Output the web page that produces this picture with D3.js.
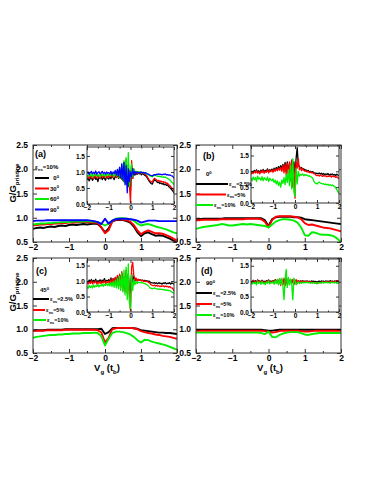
<!DOCTYPE html>
<html><head><meta charset="utf-8">
<script src="https://cdn.jsdelivr.net/npm/d3@7"></script>
<style>
html,body{margin:0;padding:0;background:#fff;}
svg{display:block;}
text{font-family:"Liberation Sans",Arial,sans-serif;font-weight:bold;fill:#000;}
</style></head>
<body>
<script>
// ---------- tick labels ----------
const xTicks = [-2,-1,0,1,2];
const xMinorTicks = [-1.5,-0.5,0.5,1.5];
const yTicksMain = [0.5,1.0,1.5,2.0,2.5];
const yTicksInset = [0.0,0.5,1.0,1.5];

// ---------- legend labels ----------
const angleLabelsA = ["0","30","60","90"];
const strainLabels = ["2.5%","5%","10%"];

// ---------- main panel series (Vg from -2 to 2, step 0.1) ----------
const a_main_0  = [0.77,0.79,0.80,0.79,0.81,0.82,0.81,0.83,0.84,0.83,0.85,0.86,0.85,0.86,0.87,0.86,0.87,0.88,0.87,0.80,0.70,0.78,0.92,0.95,0.96,0.95,0.93,0.90,0.82,0.70,0.62,0.68,0.70,0.66,0.63,0.64,0.63,0.60,0.57,0.53,0.50];
const a_main_30 = [0.84,0.85,0.86,0.86,0.87,0.87,0.88,0.88,0.89,0.89,0.90,0.90,0.90,0.91,0.91,0.91,0.90,0.90,0.89,0.80,0.68,0.74,0.92,0.96,0.97,0.96,0.95,0.92,0.85,0.74,0.66,0.71,0.74,0.71,0.68,0.68,0.67,0.64,0.61,0.57,0.53];
const a_main_60 = [0.86,0.87,0.88,0.88,0.89,0.89,0.90,0.90,0.91,0.91,0.91,0.92,0.92,0.92,0.92,0.93,0.92,0.92,0.91,0.88,0.84,0.88,0.94,0.98,0.99,0.99,0.98,0.97,0.94,0.88,0.84,0.86,0.87,0.85,0.82,0.80,0.78,0.76,0.73,0.70,0.68];
const a_main_90 = [0.93,0.94,0.94,0.94,0.95,0.95,0.95,0.95,0.95,0.95,0.95,0.95,0.95,0.95,0.95,0.95,0.94,0.93,0.91,0.87,0.98,0.88,0.94,0.97,0.98,0.98,0.98,0.97,0.96,0.94,0.90,0.92,0.94,0.94,0.94,0.93,0.93,0.93,0.93,0.93,0.93];

const b_main_25 = [0.97,0.97,0.98,0.98,0.98,0.98,0.98,0.98,0.99,0.99,0.99,0.99,0.99,0.99,0.99,0.99,0.99,0.99,0.99,0.95,0.83,0.97,1.01,1.02,1.02,1.02,1.02,1.01,1.01,1.00,0.97,0.96,0.95,0.94,0.93,0.92,0.91,0.90,0.89,0.88,0.87];
const b_main_5  = [0.95,0.95,0.96,0.96,0.96,0.96,0.96,0.97,0.97,0.97,0.97,0.97,0.97,0.97,0.98,0.98,0.98,0.98,0.97,0.92,0.80,0.95,1.02,1.03,1.03,1.03,1.03,1.02,1.01,0.97,0.89,0.85,0.86,0.84,0.82,0.80,0.79,0.78,0.76,0.74,0.72];
const b_main_10 = [0.77,0.79,0.81,0.82,0.83,0.84,0.85,0.87,0.86,0.84,0.84,0.85,0.86,0.87,0.86,0.87,0.86,0.85,0.84,0.83,0.80,0.86,0.92,0.95,0.97,0.97,0.96,0.94,0.90,0.80,0.64,0.63,0.70,0.69,0.66,0.65,0.65,0.64,0.62,0.57,0.50];

const c_main_25 = [0.97,0.98,0.98,0.98,0.99,0.99,0.99,0.99,0.99,1.00,1.00,1.00,1.00,1.00,1.00,1.00,1.00,1.00,1.00,1.01,0.90,0.94,1.02,1.03,1.03,1.03,1.03,1.03,1.02,1.01,0.98,0.97,0.96,0.95,0.94,0.93,0.93,0.92,0.92,0.91,0.90];
const c_main_5  = [0.96,0.97,0.97,0.97,0.98,0.98,0.98,0.98,0.98,0.99,0.99,0.99,0.99,0.99,0.99,0.99,0.99,0.99,0.98,0.93,0.72,0.82,1.00,1.02,1.03,1.03,1.03,1.03,1.02,1.00,0.96,0.94,0.92,0.91,0.89,0.88,0.86,0.85,0.84,0.82,0.80];
const c_main_10 = [0.82,0.84,0.85,0.86,0.87,0.88,0.88,0.89,0.89,0.90,0.90,0.91,0.91,0.91,0.92,0.92,0.92,0.93,0.92,0.85,0.66,0.80,0.92,0.95,0.95,0.94,0.92,0.89,0.84,0.77,0.72,0.78,0.77,0.74,0.72,0.70,0.68,0.66,0.63,0.60,0.57];

const d_main_25 = [0.99,0.99,0.99,0.99,0.99,0.99,0.99,0.99,0.99,0.99,0.99,0.99,0.99,0.99,0.99,0.99,0.99,0.99,0.99,0.98,0.97,0.97,0.98,0.99,0.99,0.99,0.99,0.99,0.99,0.99,0.99,0.99,0.99,0.99,0.99,0.99,0.99,0.99,0.99,0.99,0.99];
const d_main_5  = [0.97,0.97,0.97,0.97,0.97,0.97,0.97,0.97,0.97,0.97,0.97,0.97,0.97,0.97,0.97,0.97,0.97,0.97,0.97,0.96,0.95,0.93,0.94,0.96,0.97,0.97,0.97,0.97,0.97,0.96,0.95,0.95,0.96,0.97,0.97,0.97,0.97,0.97,0.97,0.97,0.97];
const d_main_10 = [0.93,0.93,0.93,0.93,0.93,0.93,0.93,0.93,0.93,0.93,0.93,0.93,0.93,0.93,0.93,0.93,0.93,0.93,0.92,0.90,0.95,0.84,0.83,0.88,0.91,0.93,0.94,0.94,0.94,0.92,0.89,0.88,0.90,0.91,0.92,0.92,0.92,0.92,0.92,0.92,0.92];

// ---------- inset series (Vg from -2 to 2, step 0.05) ----------
const a_in_0 = [0.76,0.82,0.72,0.80,0.85,0.74,0.79,0.86,0.77,0.81,0.70,0.84,0.79,0.88,0.76,0.83,0.80,0.74,0.87,0.81,
 0.78,0.85,0.79,0.90,0.82,0.76,0.88,0.83,0.91,0.80,0.86,0.95,0.78,1.02,0.70,1.10,0.62,1.15,0.55,1.05,
 0.40,1.20,0.80,1.05,0.90,0.98,0.92,1.00,0.94,0.97,0.91,0.95,0.93,0.90,0.88,0.84,0.78,0.72,0.68,0.64,
 0.62,0.70,0.76,0.74,0.70,0.67,0.68,0.64,0.66,0.62,0.64,0.60,0.62,0.58,0.60,0.55,0.52,0.48,0.44,0.40,0.35];
const a_in_30 = [0.84,0.88,0.80,0.90,0.83,0.87,0.78,0.92,0.85,0.82,0.89,0.86,0.80,0.91,0.84,0.88,0.83,0.90,0.86,0.82,
 0.89,0.85,0.92,0.84,0.90,0.87,0.95,0.82,0.98,0.86,1.05,0.80,1.15,0.75,1.30,0.70,1.40,0.65,1.20,0.60,
 0.05,1.35,0.80,1.10,0.95,1.02,0.96,0.99,0.97,1.00,0.95,0.98,0.96,0.94,0.92,0.88,0.82,0.76,0.72,0.70,
 0.68,0.76,0.80,0.78,0.75,0.72,0.74,0.70,0.72,0.69,0.70,0.67,0.68,0.64,0.65,0.60,0.58,0.54,0.50,0.47,0.42];
const a_in_60 = [0.90,0.86,0.93,0.88,0.95,0.84,0.91,0.89,0.94,0.87,0.92,0.90,0.85,0.95,0.88,0.93,0.91,0.86,0.96,0.90,
 0.93,0.88,0.97,0.90,0.94,0.86,1.00,0.88,1.05,0.84,1.12,0.80,1.25,0.72,1.35,0.65,1.45,0.60,1.60,0.55,
 0.90,1.25,0.85,1.10,0.98,1.02,0.99,1.01,0.98,1.00,0.97,0.99,0.98,0.97,0.96,0.94,0.92,0.90,0.88,0.86,
 0.85,0.88,0.90,0.89,0.88,0.86,0.87,0.85,0.86,0.84,0.85,0.83,0.84,0.82,0.80,0.78,0.76,0.72,0.68,0.65,0.60];
const a_in_90 = [0.96,1.00,0.92,0.98,1.02,0.94,0.99,0.95,1.03,0.93,0.98,1.01,0.94,0.97,1.02,0.95,0.99,0.93,1.00,0.96,
 0.98,0.94,1.02,0.92,1.00,0.95,1.05,0.90,1.08,0.88,1.15,0.82,1.25,0.75,1.30,0.60,1.20,0.35,1.10,0.70,
 1.00,0.85,1.10,0.92,1.02,0.96,1.00,0.97,0.99,0.98,1.00,0.97,0.99,0.96,0.98,0.95,0.94,0.92,0.90,0.89,
 0.88,0.90,0.92,0.91,0.93,0.92,0.94,0.92,0.93,0.91,0.93,0.92,0.94,0.91,0.92,0.90,0.91,0.89,0.88,0.86,0.80];

const b_in_25 = [0.94,1.00,0.96,1.03,0.98,1.05,0.97,1.02,0.95,1.04,0.99,1.06,0.97,1.03,1.00,1.08,0.98,1.05,1.02,1.07,
 1.00,1.10,1.03,1.12,1.05,1.15,1.08,1.18,1.10,1.22,1.05,1.28,1.00,1.30,0.95,1.25,0.90,1.35,0.85,1.30,
 0.95,1.40,1.75,1.20,1.15,1.10,1.12,1.06,1.08,1.03,1.05,1.00,1.03,0.98,1.00,0.97,0.99,0.96,0.95,0.93,
 0.94,0.92,0.95,0.91,0.94,0.90,0.93,0.89,0.92,0.90,0.93,0.88,0.91,0.89,0.92,0.88,0.90,0.87,0.91,0.88,0.85];
const b_in_5 = [0.90,0.97,0.93,1.00,0.95,1.02,0.94,0.99,0.92,1.01,0.96,1.03,0.94,1.00,0.97,1.05,0.95,1.02,0.99,1.04,
 0.97,1.06,1.00,1.08,1.02,1.10,1.04,1.12,1.00,1.18,0.95,1.22,0.90,1.25,0.80,1.30,0.70,1.35,0.50,1.20,
 0.15,1.30,1.10,1.40,1.05,1.12,1.02,1.08,1.03,1.00,1.02,0.98,1.00,0.96,0.98,0.95,0.96,0.93,0.92,0.88,
 0.86,0.88,0.85,0.89,0.86,0.84,0.87,0.85,0.86,0.83,0.85,0.84,0.86,0.82,0.85,0.83,0.84,0.81,0.83,0.80,0.75];
const b_in_10 = [0.78,0.70,0.82,0.74,0.80,0.68,0.85,0.75,0.79,0.72,0.83,0.70,0.80,0.76,0.72,0.82,0.68,0.78,0.74,0.70,
 0.76,0.65,0.72,0.60,0.70,0.55,0.66,0.50,0.72,0.62,0.80,0.58,0.90,0.65,1.05,0.55,1.20,0.45,1.40,0.35,
 0.20,1.10,0.60,1.00,0.85,0.90,0.88,0.92,0.86,0.90,0.87,0.89,0.85,0.86,0.83,0.82,0.78,0.70,0.64,0.62,
 0.60,0.64,0.66,0.63,0.62,0.60,0.61,0.58,0.60,0.57,0.59,0.56,0.58,0.55,0.57,0.54,0.52,0.48,0.42,0.36,0.30];

const c_in_25 = [1.00,0.95,1.03,0.97,1.05,0.96,1.02,0.98,1.06,0.95,1.01,0.99,1.04,0.96,1.03,0.98,1.08,0.97,1.02,1.00,
 1.05,0.96,1.10,0.94,1.08,0.92,1.12,0.90,1.15,0.88,1.20,0.85,1.25,0.80,1.10,0.75,1.30,0.85,1.20,0.70,
 0.60,1.25,0.90,1.15,1.00,1.08,1.02,1.05,1.03,1.04,1.02,1.03,1.01,1.02,1.00,1.01,0.99,1.00,0.97,0.95,
 0.94,0.93,0.95,0.92,0.94,0.91,0.95,0.92,0.93,0.90,0.94,0.92,0.95,0.91,0.93,0.92,0.95,0.90,0.94,0.92,0.90];
const c_in_5 = [0.95,0.90,0.98,0.92,1.00,0.91,0.97,0.94,1.01,0.90,0.96,0.93,0.99,0.91,0.98,0.94,1.02,0.92,0.97,0.95,
 1.00,0.92,1.05,0.90,1.08,0.88,1.12,0.85,1.18,0.82,1.22,0.78,1.30,0.70,1.15,0.65,1.35,0.60,1.25,0.50,
 0.05,1.45,1.60,1.20,1.05,1.10,1.00,1.06,1.02,1.04,1.00,1.02,0.99,1.00,0.98,0.99,0.97,0.95,0.92,0.88,
 0.86,0.85,0.87,0.84,0.86,0.83,0.85,0.82,0.84,0.83,0.85,0.81,0.84,0.82,0.83,0.80,0.82,0.79,0.78,0.75,0.68];
const c_in_10 = [0.82,0.76,0.86,0.79,0.84,0.78,0.88,0.80,0.85,0.82,0.90,0.81,0.87,0.84,0.91,0.83,0.89,0.86,0.93,0.85,
 0.92,0.84,0.96,0.82,0.98,0.80,1.02,0.78,1.08,0.75,1.15,0.70,1.25,0.65,1.35,0.55,1.45,0.40,1.55,0.30,
 0.10,1.20,0.70,1.05,0.88,0.98,0.92,0.97,0.95,0.96,0.94,0.95,0.93,0.92,0.90,0.88,0.86,0.82,0.78,0.76,
 0.75,0.76,0.78,0.76,0.75,0.74,0.75,0.73,0.74,0.72,0.73,0.71,0.72,0.70,0.71,0.69,0.70,0.67,0.65,0.62,0.60];

const d_in_25 = [1.00,0.97,1.03,0.98,1.02,0.96,1.04,0.99,1.01,0.97,1.03,0.98,1.00,0.96,1.02,0.99,1.04,0.97,1.01,0.98,
 1.02,0.96,1.05,0.97,1.03,0.95,1.06,0.96,1.04,0.94,1.05,0.95,1.08,0.93,1.04,0.96,1.06,0.95,1.02,0.97,
 0.98,1.03,0.97,1.02,0.98,1.01,0.99,1.02,0.98,1.00,0.99,1.01,0.98,1.00,0.97,1.01,0.99,1.00,0.98,0.99,
 0.97,0.99,1.00,0.98,1.01,0.99,1.00,0.98,1.01,0.99,1.00,0.98,1.02,0.99,1.00,0.98,1.01,0.99,1.02,1.00,1.00];
const d_in_5 = [0.98,0.94,1.02,0.95,1.00,0.93,1.03,0.96,0.99,0.94,1.01,0.95,0.98,0.92,1.00,0.96,1.03,0.94,0.99,0.95,
 1.01,0.93,1.04,0.94,1.06,0.90,1.08,0.86,1.05,0.88,1.10,0.85,1.05,0.90,1.08,0.92,1.04,0.93,1.06,0.90,
 0.95,1.05,0.92,1.02,0.96,1.00,0.97,1.01,0.96,0.99,0.98,1.00,0.97,0.99,0.96,0.98,0.95,0.96,0.94,0.93,
 0.92,0.94,0.96,0.95,0.97,0.96,0.98,0.96,0.99,0.97,0.98,0.96,1.00,0.97,0.99,0.96,1.00,0.98,1.01,0.99,0.98];
const d_in_10 = [0.95,0.90,0.98,0.92,0.96,0.88,1.00,0.93,0.97,0.90,0.99,0.92,0.95,0.89,0.98,0.93,1.01,0.91,0.96,0.94,
 0.98,0.90,1.02,0.92,1.05,0.88,1.08,0.90,1.10,0.85,0.40,1.05,1.38,0.80,1.12,0.88,1.06,0.92,0.40,1.10,
 1.00,0.88,0.94,0.98,0.92,0.96,0.93,0.97,0.94,0.96,0.95,0.97,0.94,0.96,0.93,0.95,0.94,0.96,0.93,0.94,
 0.92,0.95,0.94,0.96,0.93,0.97,0.94,0.96,0.95,0.97,0.94,0.96,0.93,0.97,0.95,0.96,0.94,0.97,0.93,0.95,0.92];

// ---------- styles / layout ----------
const colBlack = "#000000", colRed = "#ff0000", colGreen = "#00ee00", colBlue = "#0000ff";

const panels = [
  { tag:"(a)", box:[33,177,145,242], inset:[87,174,147,204], insetTop:1.78,
    main:[a_main_0,a_main_30,a_main_60,a_main_90], ins:[a_in_0,a_in_30,a_in_60,a_in_90],
    colors:[colBlack,colRed,colGreen,colBlue] },
  { tag:"(b)", box:[196,341,145,242], inset:[251,339,146,203], insetTop:1.8,
    main:[b_main_25,b_main_5,b_main_10], ins:[b_in_25,b_in_5,b_in_10],
    colors:[colBlack,colRed,colGreen] },
  { tag:"(c)", box:[33,177,258,353], inset:[87,174,260,312], insetTop:1.68,
    main:[c_main_25,c_main_5,c_main_10], ins:[c_in_25,c_in_5,c_in_10],
    colors:[colBlack,colRed,colGreen] },
  { tag:"(d)", box:[196,341,258,353], inset:[251,339,259,312], insetTop:1.72,
    main:[d_main_25,d_main_5,d_main_10], ins:[d_in_25,d_in_5,d_in_10],
    colors:[colBlack,colRed,colGreen] }
];

const W = 383, H = 495;
const svg = d3.select("body").append("svg").attr("width",W).attr("height",H);

function frameAxes(g, x, y, [x0,x1,y0,y1], opt){
  const {major, minor, yt, fs, pad, padY} = opt;
  const strip = s => s.select(".domain").remove();
  g.append("g").attr("transform",`translate(0,${y1})`)
    .call(d3.axisBottom(x).tickValues(xTicks).tickSize(-major).tickSizeOuter(0).tickPadding(padY).tickFormat(d3.format("d")))
    .call(strip).call(s=>s.selectAll("text").attr("font-size",fs));
  g.append("g").attr("transform",`translate(0,${y1})`)
    .call(d3.axisBottom(x).tickValues(xMinorTicks).tickSize(-minor).tickFormat("")).call(strip);
  g.append("g").attr("transform",`translate(0,${y0})`)
    .call(d3.axisTop(x).tickValues(xTicks).tickSize(-major).tickFormat("")).call(strip);
  g.append("g").attr("transform",`translate(0,${y0})`)
    .call(d3.axisTop(x).tickValues(xMinorTicks).tickSize(-minor).tickFormat("")).call(strip);
  g.append("g").attr("transform",`translate(${x0},0)`)
    .call(d3.axisLeft(y).tickValues(yt).tickSize(-major).tickPadding(pad).tickFormat(d3.format(".1f")))
    .call(strip).call(s=>s.selectAll("text").attr("font-size",fs));
  g.append("g").attr("transform",`translate(${x1},0)`)
    .call(d3.axisRight(y).tickValues(yt).tickSize(-major).tickFormat("")).call(strip);
  g.selectAll(".tick line").attr("stroke","#000").attr("stroke-width",0.8);
  g.selectAll("text").attr("font-family",'"Liberation Sans",Arial,sans-serif').attr("font-weight","bold").attr("fill","#000");
  g.append("rect").attr("x",x0).attr("y",y0).attr("width",x1-x0).attr("height",y1-y0)
    .attr("fill","none").attr("stroke","#333").attr("stroke-width",1);
}

function drawSeries(g, x, y, arr, color, w){
  const n = arr.length;
  const line = d3.line().x((d,i)=>x(-2 + 4*i/(n-1))).y(d=>y(d));
  g.append("path").attr("d",line(arr)).attr("fill","none").attr("stroke",color)
    .attr("stroke-width",w).attr("stroke-linejoin","round");
}

panels.forEach(p=>{
  const [x0,x1,y0,y1] = p.box;
  const g = svg.append("g");
  const x = d3.scaleLinear().domain([-2,2]).range([x0,x1]);
  const y = d3.scaleLinear().domain([0.5,2.5]).range([y1,y0]);
  const clipId = "clip"+p.tag.replace(/\W/g,"");
  svg.append("clipPath").attr("id",clipId).append("rect").attr("x",x0).attr("y",y0).attr("width",x1-x0).attr("height",y1-y0);
  const lg = g.append("g").attr("clip-path",`url(#${clipId})`);
  p.main.forEach((arr,k)=>drawSeries(lg,x,y,arr,p.colors[k],1.9));
  frameAxes(g,x,y,p.box,{major:4,minor:2,yt:yTicksMain,fs:8.5,pad:5,padY:2});

  const [ix0,ix1,iy0,iy1] = p.inset;
  const gi = svg.append("g");
  gi.append("rect").attr("x",ix0).attr("y",iy0).attr("width",ix1-ix0).attr("height",iy1-iy0).attr("fill","#fff");
  const xi = d3.scaleLinear().domain([-2,2]).range([ix0,ix1]);
  const yi = d3.scaleLinear().domain([0,p.insetTop]).range([iy1,iy0]);
  const cid2 = clipId+"i";
  svg.append("clipPath").attr("id",cid2).append("rect").attr("x",ix0).attr("y",iy0).attr("width",ix1-ix0).attr("height",iy1-iy0);
  const li = gi.append("g").attr("clip-path",`url(#${cid2})`);
  p.ins.forEach((arr,k)=>drawSeries(li,xi,yi,arr,p.colors[k],1.3));
  frameAxes(gi,xi,yi,p.inset,{major:3,minor:1.5,yt:yTicksInset,fs:6.5,pad:2,padY:1.5});
});

// ---------- panel labels and legends ----------
function txt(x,y,fs){ return svg.append("text").attr("x",x).attr("y",y).attr("font-size",fs); }
function eps(t, rest, fs){
  t.append("tspan").text("\u03b5");
  t.append("tspan").attr("dy",1.5).attr("font-size",fs*0.7).text("ns");
  t.append("tspan").attr("dy",-1.5).text("="+rest);
}
function deg(t, v, fs){
  t.append("tspan").text(v);
  t.append("tspan").attr("dy",-2.5).attr("font-size",fs*0.7).text("0");
}
function legLine(x0,x1,y,c){
  svg.append("line").attr("x1",x0).attr("x2",x1).attr("y1",y).attr("y2",y).attr("stroke",c).attr("stroke-width",2);
}

// (a)
txt(35,157,9).text(panels[0].tag);
eps(txt(35,169,6),"10%",6);
[178,188.5,199,209.5].forEach((yy,k)=>{
  legLine(35,49,yy,panels[0].colors[k]);
  deg(txt(59,yy+2,6).attr("text-anchor","end"),angleLabelsA[k],6);
});
// (b)
txt(203,159,9).text(panels[1].tag);
deg(txt(206,176,6),"0",6);
[[184,228],[194.5,226],[205,213]].forEach(([yy,xe],k)=>{
  legLine(196,xe,yy,panels[1].colors[k]);
  eps(txt(xe+1,yy+2,5.5),strainLabels[k],5.5);
});
// (c)
txt(36,274,9).text(panels[2].tag);
deg(txt(40,292,6),"45",6);
[[299,49],[310,45],[320,46]].forEach(([yy,xe],k)=>{
  legLine(33,xe,yy,panels[2].colors[k]);
  eps(txt(xe+1,yy+2,5.5),strainLabels[k],5.5);
});
// (d)
txt(201,274,9).text(panels[3].tag);
deg(txt(206,285,6),"90",6);
[293,304,315].forEach((yy,k)=>{
  legLine(196,212,yy,panels[3].colors[k]);
  eps(txt(213,yy+2,5.5),strainLabels[k],5.5);
});

// axis titles
function ytitle(cy){
  const t = svg.append("text").attr("transform",`translate(16,${cy}) rotate(-90)`).attr("text-anchor","middle").attr("font-size",9.5);
  t.append("tspan").text("G/G");
  t.append("tspan").attr("dy",2.5).attr("font-size",6).text("pristine");
}
ytitle(183); ytitle(292);
function xtitle(cx){
  const t = svg.append("text").attr("x",cx).attr("y",371).attr("text-anchor","middle").attr("font-size",9.5);
  t.append("tspan").text("V");
  t.append("tspan").attr("dy",2.5).attr("font-size",6).text("g");
  t.append("tspan").attr("dy",-2.5).text(" (t");
  t.append("tspan").attr("dy",2.5).attr("font-size",6).text("b");
  t.append("tspan").attr("dy",-2.5).text(")");
}
xtitle(107); xtitle(270);
</script>
</body></html>
